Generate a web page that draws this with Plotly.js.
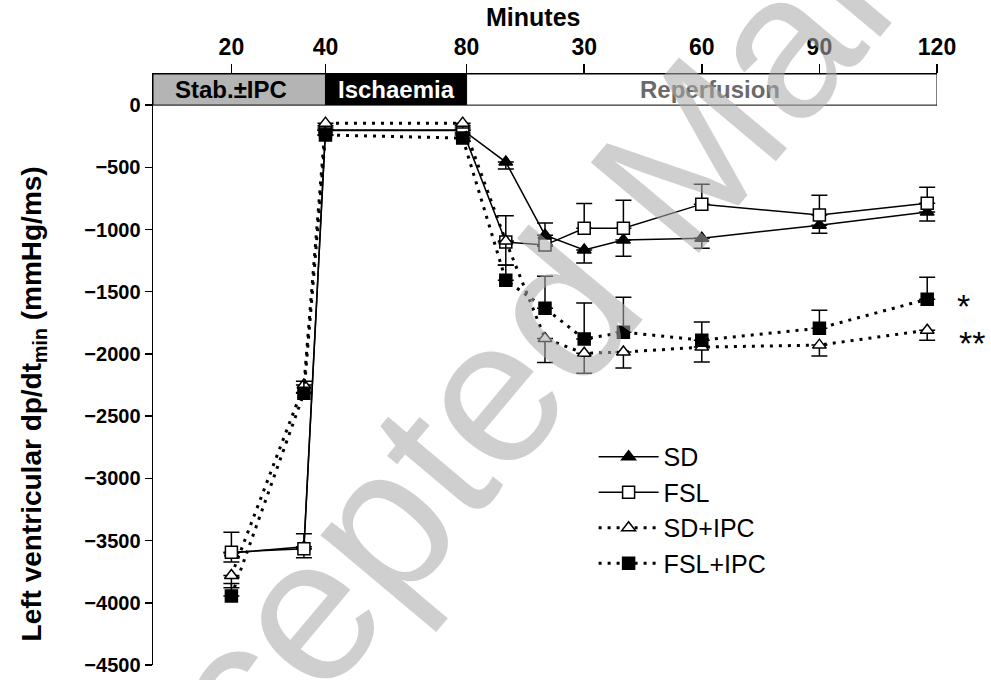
<!DOCTYPE html>
<html><head><meta charset="utf-8">
<script src="https://cdn.plot.ly/plotly-3.0.1.min.js"></script>
<style>html,body{margin:0;padding:0;background:#fff}#chart{width:991px;height:680px}</style>
</head><body><div id="chart"></div>
<script>
// protocol time (min): stabilisation 0-40(+IPC), ischaemia, reperfusion (80 + reperfusion minutes)
const minutes = [20, 38.5, 44, 79, 90, 100, 110, 120, 140, 170, 197.5];

const sd       = [-3600, -3550, -200, -200, -458, -1045, -1165, -1085, -1070, -965, -860];
const sdErr    = [72, 88, 40, 40, 55, 90, 105, 130, 80, 64, 72];
const fsl      = [-3593, -3565, -205, -205, -1100, -1125, -990, -990, -796, -884, -788];
const fslErr   = [160, 120, 40, 40, 210, 177, 200, 225, 160, 160, 128];
const sdIpc    = [-3780, -2250, -145, -145, -1093, -1875, -1995, -1985, -1945, -1929, -1809];
const sdIpcErr = [100, 60, 40, 40, 193, 193, 160, 128, 120, 88, 80];
const fslIpc   = [-3945, -2315, -240, -265, -1407, -1632, -1880, -1825, -1889, -1793, -1560];
const fslIpcErr= [100, 95, 40, 40, 120, 257, 290, 281, 145, 145, 177];

const seriesNames = ['SD', 'FSL', 'SD+IPC', 'FSL+IPC'];
const tickVals = [20, 44, 80, 110, 140, 170, 200];
const tickText = ['20', '40', '80', '30', '60', '90', '120'];
const yTickVals = [0, -500, -1000, -1500, -2000, -2500, -3000, -3500, -4000, -4500];
const phaseLabels = ['Stab.±IPC', 'Ischaemia', 'Reperfusion'];
const phaseBounds = [0, 44, 80, 200];

const FONT = 'Liberation Sans, Arial, sans-serif';
const zeros = a => a.map(() => 0);
const dotted = '3px,6px';

function trace(name, y, err, up, symbol, fill, dash) {
  return {
    type: 'scatter', mode: 'lines+markers', name: name,
    x: minutes, y: y,
    line: {color: 'black', width: dash ? 3 : 1.5, dash: dash || 'solid'},
    marker: {symbol: symbol, size: 12, color: fill,
             line: {color: 'black', width: 1.5}},
    error_y: {type: 'data', symmetric: false,
              array: up ? err : zeros(err), arrayminus: up ? zeros(err) : err,
              color: 'black', thickness: 1.5, width: 8},
    cliponaxis: false
  };
}

const data = [
  trace(seriesNames[0], sd, sdErr, false, 'triangle-up', 'black', null),
  trace(seriesNames[1], fsl, fslErr, true, 'square', 'white', null),
  trace(seriesNames[2], sdIpc, sdIpcErr, false, 'triangle-up', 'white', dotted),
  trace(seriesNames[3], fslIpc, fslIpcErr, true, 'square', 'black', dotted)
];

const phaseFill = ['#b4b4b4', '#000000', '#ffffff'];
const phaseText = ['#000000', '#ffffff', '#6a6a6a'];
const shapes = phaseLabels.map((l, i) => ({
  type: 'rect', xref: 'x', yref: 'y', x0: phaseBounds[i], x1: phaseBounds[i + 1], y0: 0, y1: 250,
  fillcolor: phaseFill[i], line: {color: 'black', width: 1}, layer: 'above'
}));

const annotations = phaseLabels.map((l, i) => ({
  text: l, xref: 'x', yref: 'y', x: [20, 62, 142][i], y: 125, showarrow: false,
  xanchor: 'center', yanchor: 'middle',
  font: {family: FONT, size: 24, weight: 'bold', color: phaseText[i]}
}));

annotations.push(
  {text: 'Minutes', xref: 'x', yref: 'paper', x: 97, y: 1.097, showarrow: false,
   xanchor: 'center', yanchor: 'middle',
   font: {family: FONT, size: 25, weight: 'bold', color: 'black'}},
  {text: 'Left ventricular dp/dt<sub>min</sub> (mmHg/ms)', xref: 'paper', yref: 'paper',
   x: -0.153, y: 0.441, textangle: -90, showarrow: false, xanchor: 'center', yanchor: 'middle',
   font: {family: FONT, size: 28, weight: 'bold', color: 'black'}},
  {text: '*', xref: 'x', yref: 'y', x: minutes[minutes.length - 1], y: fslIpc[fslIpc.length - 1],
   xshift: 36, yshift: -7, showarrow: false, xanchor: 'center', yanchor: 'middle',
   font: {family: FONT, size: 34, color: 'black'}},
  {text: '**', xref: 'x', yref: 'y', x: minutes[minutes.length - 1], y: sdIpc[sdIpc.length - 1],
   xshift: 45, yshift: -13, showarrow: false, xanchor: 'center', yanchor: 'middle',
   font: {family: FONT, size: 34, color: 'black'}},
  {text: 'Accepted Manuscript', xref: 'paper', yref: 'paper', x: 0.649, y: 0.812,
   xanchor: 'center', yanchor: 'middle',
   textangle: -50, showarrow: false, opacity: 0.56,
   font: {family: FONT, size: 205, color: 'rgb(171,171,171)'}}
);

const layout = {
  width: 991, height: 680,
  margin: {l: 153, r: 54, t: 74, b: 15, pad: 0},
  paper_bgcolor: 'white', plot_bgcolor: 'white',
  font: {family: FONT, color: 'black'},
  showlegend: true,
  legend: {x: 0.562, y: 0.391, xanchor: 'left', yanchor: 'top', bgcolor: 'rgba(0,0,0,0)',
           font: {family: FONT, size: 25, color: 'black'}, itemwidth: 60, tracegroupgap: 0},
  xaxis: {side: 'top', range: [0, 200], tickmode: 'array', tickvals: tickVals, ticktext: tickText,
          ticks: 'outside', ticklen: 9, tickwidth: 1.5, tickcolor: 'black',
          showline: true, linecolor: 'black', linewidth: 1, showgrid: false, zeroline: false,
          tickfont: {family: FONT, size: 23, weight: 'bold', color: 'black'}},
  yaxis: {range: [-4500, 250], tickmode: 'array', tickvals: yTickVals,
          ticks: 'outside', ticklen: 7, tickwidth: 1.5, tickcolor: 'black',
          showline: true, linecolor: 'black', linewidth: 1.5, showgrid: false, zeroline: false,
          tickfont: {family: FONT, size: 20, weight: 'bold', color: 'black'}},
  shapes: shapes,
  annotations: annotations
};

Plotly.newPlot('chart', data, layout, {displayModeBar: false, staticPlot: true});
</script></body></html>
